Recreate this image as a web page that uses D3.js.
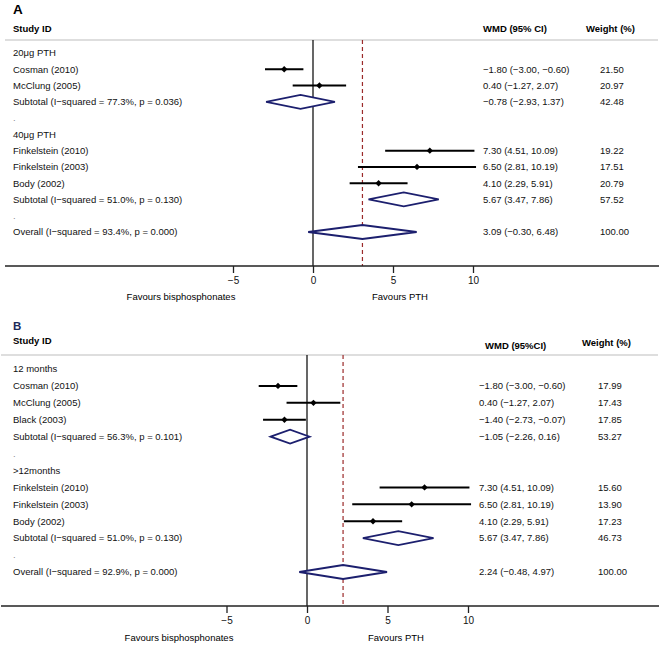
<!DOCTYPE html>
<html><head><meta charset="utf-8">
<script src="https://cdn.jsdelivr.net/npm/d3@7"></script>
<style>body{margin:0;background:#fff}svg{display:block}text{font-family:"Liberation Sans",Arial,sans-serif}</style>
</head><body><svg id="c" width="662" height="648"></svg>
<script>
// ---- Panel A data ----
const labelsA = ["20μg PTH","Cosman  (2010)","McClung  (2005)","Subtotal  (I\u2212squared = 77.3%, p = 0.036)",".","40μg PTH","Finkelstein  (2010)","Finkelstein  (2003)","Body  (2002)","Subtotal  (I\u2212squared = 51.0%, p = 0.130)",".","Overall  (I\u2212squared = 93.4%, p = 0.000)"];
const kindA = ["group","study","study","subtotal","blank","group","study","study","study","subtotal","blank","overall"];
const estA = [null,-1.80,0.40,-0.78,null,null,7.30,6.50,4.10,5.67,null,3.09];
const lowA = [null,-3.00,-1.27,-2.93,null,null,4.51,2.81,2.29,3.47,null,-0.30];
const highA = [null,-0.60,2.07,1.37,null,null,10.09,10.19,5.91,7.86,null,6.48];
const ciTextA = ["","\u22121.80 (\u22123.00, \u22120.60)","0.40 (\u22121.27, 2.07)","\u22120.78 (\u22122.93, 1.37)","","","7.30 (4.51, 10.09)","6.50 (2.81, 10.19)","4.10 (2.29, 5.91)","5.67 (3.47, 7.86)","","3.09 (\u22120.30, 6.48)"];
const weightA = ["","21.50","20.97","42.48","","","19.22","17.51","20.79","57.52","","100.00"];

// ---- Panel B data ----
const labelsB = ["12 months","Cosman (2010)","McClung (2005)","Black (2003)","Subtotal  (I\u2212squared = 56.3%, p = 0.101)",".",">12months","Finkelstein (2010)","Finkelstein (2003)","Body (2002)","Subtotal  (I\u2212squared = 51.0%, p = 0.130)",".","Overall  (I\u2212squared = 92.9%, p = 0.000)"];
const kindB = ["group","study","study","study","subtotal","blank","group","study","study","study","subtotal","blank","overall"];
const estB = [null,-1.80,0.40,-1.40,-1.05,null,null,7.30,6.50,4.10,5.67,null,2.24];
const lowB = [null,-3.00,-1.27,-2.73,-2.26,null,null,4.51,2.81,2.29,3.47,null,-0.48];
const highB = [null,-0.60,2.07,-0.07,0.16,null,null,10.09,10.19,5.91,7.86,null,4.97];
const ciTextB = ["","\u22121.80 (\u22123.00, \u22120.60)","0.40 (\u22121.27, 2.07)","\u22121.40 (\u22122.73, \u22120.07)","\u22121.05 (\u22122.26, 0.16)","","","7.30 (4.51, 10.09)","6.50 (2.81, 10.19)","4.10 (2.29, 5.91)","5.67 (3.47, 7.86)","","2.24 (\u22120.48, 4.97)"];
const weightB = ["","17.99","17.43","17.85","53.27","","","15.60","13.90","17.23","46.73","","100.00"];

const tickVals = [-5, 0, 5, 10];
const tickLabelsA = ["\u22125", "0", "5", "10"];
const tickLabelsB = ["\u22125", "0", "5", "10"];

const svg = d3.select("#c");
const navy = "#1c1f6e";

function panel(cfg) {
  const g = svg.append("g");
  const n = cfg.labels.length;
  const x = d3.scaleLinear().domain([0, 10]).range([cfg.x0, cfg.x10]);
  const y = d3.scaleLinear().domain([0, n - 1]).range([cfg.yFirst, cfg.yLast]);
  const rows = d3.range(n);

  g.append("text").attr("x", 13).attr("y", cfg.letterY).attr("font-size", cfg.letterSize).attr("font-weight", "bold").attr("fill", cfg.letterColor).attr("dy", "0.35em").text(cfg.letter);
  g.append("text").attr("x", 13).attr("y", cfg.headY).attr("font-size", 9.5).attr("font-weight", "bold").attr("dy", "0.35em").text("Study ID");
  g.append("text").attr("x", cfg.wmdHeadX).attr("y", cfg.wmdHeadY).attr("font-size", 9.5).attr("font-weight", "bold").attr("dy", "0.35em").text(cfg.wmdHead);
  g.append("text").attr("x", cfg.wHeadX).attr("y", cfg.wHeadY).attr("font-size", 9.5).attr("font-weight", "bold").attr("dy", "0.35em").text("Weight (%)");
  g.append("line").attr("x1", cfg.lineX0).attr("x2", 658).attr("y1", cfg.headLineY).attr("y2", cfg.headLineY).attr("stroke", "#bdbdbd").attr("stroke-width", 1);

  // zero line
  g.append("line").attr("x1", x(0)).attr("x2", x(0)).attr("y1", cfg.headLineY).attr("y2", cfg.axisY).attr("stroke", "#000").attr("stroke-width", 1.2);
  // overall dashed line
  const ov = cfg.est[n - 1];
  g.append("line").attr("x1", x(ov)).attr("x2", x(ov)).attr("y1", cfg.headLineY).attr("y2", cfg.axisY).attr("stroke", "#9b2a2a").attr("stroke-width", 1.2).attr("stroke-dasharray", "4,3");

  // labels
  g.selectAll(".lab").data(rows).join("text").attr("x", 13).attr("y", i => y(i)).attr("dy", "0.35em").attr("font-size", 9.5)
    .attr("fill", i => cfg.kind[i] === "blank" ? "#888" : "#111").text(i => cfg.labels[i]);
  g.selectAll(".ci").data(rows).join("text").attr("x", cfg.wmdX).attr("y", i => y(i)).attr("dy", "0.35em").attr("font-size", 9.5).attr("fill", "#111").text(i => cfg.ciText[i]);
  g.selectAll(".wt").data(rows).join("text").attr("x", cfg.wX).attr("y", i => y(i)).attr("dy", "0.35em").attr("font-size", 9.5).attr("fill", "#111").text(i => cfg.weight[i]);

  // study CIs
  const studies = rows.filter(i => cfg.kind[i] === "study");
  g.selectAll(".cil").data(studies).join("line").attr("x1", i => x(cfg.low[i])).attr("x2", i => x(cfg.high[i]))
    .attr("y1", i => y(i)).attr("y2", i => y(i)).attr("stroke", "#000").attr("stroke-width", 2);
  g.selectAll(".pt").data(studies).join("path")
    .attr("d", i => { const cx = x(cfg.est[i]), cy = y(i), r = 3.2; return `M${cx - r},${cy}L${cx},${cy - r}L${cx + r},${cy}L${cx},${cy + r}Z`; })
    .attr("fill", "#000");

  // diamonds
  const pooled = rows.filter(i => cfg.kind[i] === "subtotal" || cfg.kind[i] === "overall");
  g.selectAll(".dia").data(pooled).join("path")
    .attr("d", i => { const cy = y(i), h = 7; return `M${x(cfg.low[i])},${cy}L${x(cfg.est[i])},${cy - h}L${x(cfg.high[i])},${cy}L${x(cfg.est[i])},${cy + h}Z`; })
    .attr("fill", "#fff").attr("stroke", navy).attr("stroke-width", 1.8);

  // axis
  g.append("line").attr("x1", cfg.lineX0).attr("x2", 659).attr("y1", cfg.axisY).attr("y2", cfg.axisY).attr("stroke", "#222").attr("stroke-width", 1.3);
  const ax = g.append("g").attr("transform", `translate(0,${cfg.axisY})`)
    .call(d3.axisBottom(x).tickValues(tickVals).tickSize(7).tickPadding(4).tickFormat((d, i) => cfg.tickLabels[i]));
  ax.select(".domain").remove();
  ax.selectAll(".tick line").attr("stroke", "#222").attr("stroke-width", 1.3);
  ax.selectAll(".tick text").attr("font-size", 10).attr("fill", "#111").attr("font-family", "Liberation Sans, Arial, sans-serif");
  g.append("text").attr("x", cfg.favLX).attr("y", cfg.favY).attr("text-anchor", "middle").attr("dy", "0.35em").attr("font-size", 9.5).text("Favours bisphosphonates");
  g.append("text").attr("x", cfg.favRX).attr("y", cfg.favY).attr("text-anchor", "middle").attr("dy", "0.35em").attr("font-size", 9.5).text("Favours PTH");
}

panel({labels: labelsA, kind: kindA, est: estA, low: lowA, high: highA, ciText: ciTextA, weight: weightA, tickLabels: tickLabelsA,
  letter: "A", letterColor: "#000", letterSize: 13.5, letterY: 9, headY: 29, wmdHead: "WMD (95% CI)", wmdHeadX: 483, wmdHeadY: 29, wHeadX: 586, wHeadY: 29,
  headLineY: 40, lineX0: 5, x0: 313, x10: 473, yFirst: 53, yLast: 232, axisY: 266, wmdX: 483, wX: 600, favLX: 181, favRX: 400, favY: 297});

panel({labels: labelsB, kind: kindB, est: estB, low: lowB, high: highB, ciText: ciTextB, weight: weightB, tickLabels: tickLabelsB,
  letter: "B", letterColor: "#1c2a5a", letterSize: 11.5, letterY: 326, headY: 341, wmdHead: "WMD (95%CI)", wmdHeadX: 485, wmdHeadY: 346, wHeadX: 582, wHeadY: 343,
  headLineY: 355, lineX0: 1, x0: 307, x10: 468, yFirst: 369, yLast: 572, axisY: 606, wmdX: 479, wX: 598, favLX: 179, favRX: 396, favY: 638});
</script></body></html>
